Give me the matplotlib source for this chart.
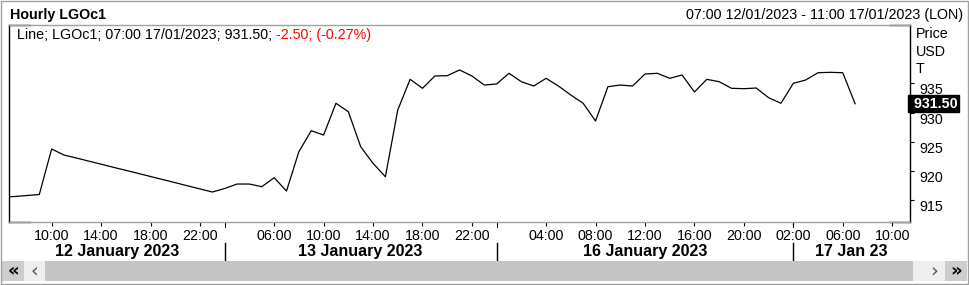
import matplotlib
matplotlib.use("Agg")
import matplotlib.pyplot as plt
import numpy as np
from matplotlib.patches import Rectangle
from matplotlib.transforms import blended_transform_factory

plt.rcParams['font.family'] = ['Liberation Sans', 'DejaVu Sans']

# ---------------- data ----------------
# trading sessions shown on the axis: (day label, first hour bar, last hour bar)
sessions = [("12 January 2023", 6, 23), ("13 January 2023", 2, 23),
            ("16 January 2023", 0, 23), ("17 Jan 23", 2, 11)]

# hourly close prices, starting at the 06:00 12 Jan bar
prices = [915.5, 915.6, 915.77, 915.94, 923.74, 922.71, 922.2, 921.67, 921.14,
          920.6, 920.09, 919.56, 919.03, 918.5, 917.97, 917.43, 916.9, 916.37,
          916.97, 917.74, 917.74, 917.28, 918.82, 916.54, 923.28, 926.88, 926.14,
          931.58, 930.14, 924.14, 921.29, 918.99, 930.43, 935.69, 934.15, 936.26,
          936.31, 937.29, 936.26, 934.71,
          934.89, 936.72, 935.28, 934.54, 935.86, 934.54, 933.0, 931.58, 928.54,
          934.42, 934.71, 934.54, 936.6, 936.72, 935.86, 936.43, 933.52, 935.69,
          935.28, 934.15, 934.08, 934.2, 932.54, 931.58,
          935.0, 935.57, 936.82, 936.89, 936.82, 931.5]

hour_ticks = [("12 January 2023", 10), ("12 January 2023", 14), ("12 January 2023", 18),
              ("12 January 2023", 22), ("13 January 2023", 6), ("13 January 2023", 10),
              ("13 January 2023", 14), ("13 January 2023", 18), ("13 January 2023", 22),
              ("16 January 2023", 4), ("16 January 2023", 8), ("16 January 2023", 12),
              ("16 January 2023", 16), ("16 January 2023", 20), ("17 Jan 23", 2),
              ("17 Jan 23", 6), ("17 Jan 23", 10)]

y_ticks = [915, 920, 925, 930, 935]
last_price = "931.50"
title = "Hourly LGOc1"
range_text = "07:00 12/01/2023 - 11:00 17/01/2023 (LON)"
legend_black = "Line; LGOc1; 07:00 17/01/2023; 931.50; "
legend_red = "-2.50; (-0.27%)"

# ---------------- layout ----------------
W, H = 969, 285
fig = plt.figure(figsize=(W / 100, H / 100), dpi=100)
fig.patch.set_facecolor('white')
FS = 10.3


def fx(px):
    return px / W


def fy(py):
    return 1 - py / H


L, R, T, B = 9, 910, 25, 222
ax = fig.add_axes([fx(L), fy(B), (R - L) / W, (B - T) / H])

bars = [(day, h) for day, h0, h1 in sessions for h in range(h0, h1 + 1)]
bar_index = {b: i for i, b in enumerate(bars)}

x = np.arange(len(prices))
ax.plot(x, prices, color='black', lw=0.9, solid_joinstyle='round')

ax.set_xlim(0.55, 73.44)
ax.set_ylim(911.23, 945.0)

# spines
for s in ['left', 'right']:
    ax.spines[s].set_color('black')
    ax.spines[s].set_linewidth(1)
for s in ['top', 'bottom']:
    ax.spines[s].set_color('#a0a0a0')
    ax.spines[s].set_linewidth(1)
for yy in (0, 1):
    ax.plot([0, 0.0233], [yy, yy], transform=ax.transAxes, clip_on=False, color='black', lw=1)
    ax.plot([0.9778, 1], [yy, yy], transform=ax.transAxes, clip_on=False, color='black', lw=1)

# y axis on right
ax.yaxis.tick_right()
ax.set_yticks(y_ticks)
ax.set_yticklabels([str(v) for v in y_ticks])
ax.tick_params(axis='y', direction='out', length=3, width=0.8, pad=3.5,
               labelsize=FS, colors='black')
for t in ax.get_yticklabels():
    t.set_va('top')

# x axis
xt = [bar_index[b] for b in hour_ticks]
ax.set_xticks(xt)
ax.set_xticklabels([f"{h:02d}:00" for _, h in hour_ticks])
ax.tick_params(axis='x', direction='out', length=3, width=0.8, pad=2.2,
               labelsize=FS, colors='black')

btrans = blended_transform_factory(ax.transData, ax.transAxes)


def ay(py):
    return (B - py) / (B - T)


seps = [bar_index[(day, h0)] for day, h0, _ in sessions[1:]]
for s in seps:
    ax.plot([s, s], [ay(243), ay(260)], transform=btrans, clip_on=False, color='black', lw=1)
    ax.plot([s, s], [ay(222), ay(227)], transform=btrans, clip_on=False, color='black', lw=0.8)

xmin, xmax = ax.get_xlim()
edges = [xmin] + seps + [xmax]
for (day, _, _), a, b in zip(sessions, edges[:-1], edges[1:]):
    ax.text((a + b) / 2, ay(255.7), day, transform=btrans, ha='center', va='baseline',
            fontsize=11.5, fontweight='bold', color='black', clip_on=False)

# price box
ptrans = blended_transform_factory(ax.transAxes, ax.transData)
ax.text(1.0, float(last_price), " " + last_price, transform=ptrans, ha='left', va='center',
        color='white', fontsize=FS, fontweight='bold', clip_on=False, zorder=10,
        bbox=dict(boxstyle='square,pad=0.12', fc='black', ec='black'))

# header texts
fig.text(fx(10), fy(19.5), title, fontsize=FS, fontweight='bold', va='baseline', ha='left')
fig.text(fx(963), fy(19.5), range_text, fontsize=FS, va='baseline', ha='right')
t1 = fig.text(fx(17), fy(39.3), legend_black, fontsize=FS, va='baseline', ha='left')
fig.canvas.draw()
bb = t1.get_window_extent()
fig.text(bb.x1 / W, fy(39.3), legend_red, fontsize=FS, va='baseline', ha='left', color='#ff0000')

for txt, yb in [("Price", 38.3), ("USD", 56), ("T", 73.3)]:
    fig.text(fx(915.5), fy(yb), txt, fontsize=FS, va='baseline', ha='left')


# scrollbar
def frect(x0, y0, x1, y1, color):
    fig.add_artist(Rectangle((fx(x0), fy(y1)), (x1 - x0) / W, (y1 - y0) / H,
                             transform=fig.transFigure, fc=color, ec='none'))


frect(2, 261, 24, 281, '#cdcdcd')
frect(24, 261, 45, 281, '#efefef')
frect(45, 261, 913, 281, '#c4c4c4')
frect(913, 261, 945, 281, '#efefef')
frect(945, 261, 967, 281, '#cdcdcd')
fig.text(fx(13), fy(271), "«", fontsize=13, fontweight='bold', ha='center', va='center',
         family='DejaVu Sans')
fig.text(fx(34), fy(271), "‹", fontsize=14, ha='center', va='center', color='#555555',
         family='DejaVu Sans')
fig.text(fx(934), fy(271), "›", fontsize=14, ha='center', va='center', color='#555555',
         family='DejaVu Sans')
fig.text(fx(956), fy(271), "»", fontsize=13, fontweight='bold', ha='center', va='center',
         family='DejaVu Sans')

# outer border
fig.add_artist(Rectangle((fx(1), fy(283.5)), 967 / W, 283 / H, transform=fig.transFigure,
                         fill=False, ec='#a0a0a0', lw=1))

fig.savefig("out.png", dpi=100)
